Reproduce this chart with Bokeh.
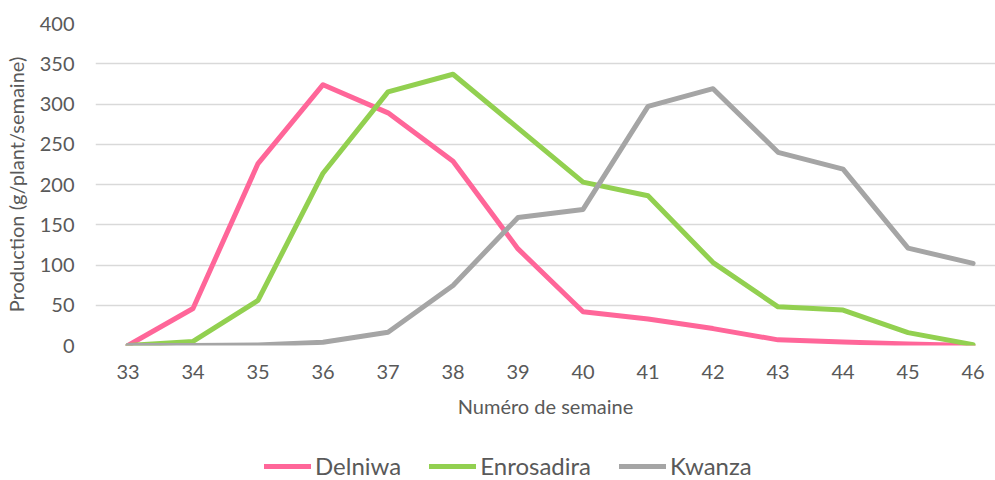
from bokeh.plotting import figure
from bokeh.layouts import column
from bokeh.models import FixedTicker, Legend, LegendItem, Range1d
from bokeh.embed import file_html
from bokeh.resources import INLINE

weeks = [33, 34, 35, 36, 37, 38, 39, 40, 41, 42, 43, 44, 45, 46]
delniwa = [0, 46, 226, 324, 289, 229, 120, 42, 33, 21, 7, 4.5, 2, 0]
enrosadira = [0, 5, 56, 214, 315, 337, 270, 203, 186, 103, 48, 44, 16, 1]
kwanza = [0, 0, 0.5, 4, 16.5, 74.5, 159, 169, 297, 319, 240, 219, 121, 102]
series_names = ["Delniwa", "Enrosadira", "Kwanza"]
colors = ["#FF6699", "#92D050", "#A5A5A5"]
y_ticks = [0, 50, 100, 150, 200, 250, 300, 350, 400]

FONT = "Lato"
TXT = "#595959"
W = 995
series = [delniwa, enrosadira, kwanza]

p = figure(width=W, height=440, output_backend="svg", toolbar_location=None,
           x_range=Range1d(32.5, 46.345), y_range=Range1d(0, 400),
           min_border_left=94, min_border_right=0, min_border_top=23,
           min_border_bottom=95)
p.outline_line_color = None

for data, c in zip(series, colors):
    p.line(weeks, data, line_color=c, line_width=5,
           line_join="round", line_cap="round")

p.xgrid.grid_line_color = None
p.ygrid.grid_line_color = "#D9D9D9"
p.ygrid.grid_line_width = 1.5
p.yaxis.ticker = FixedTicker(ticks=y_ticks)
p.xaxis.ticker = FixedTicker(ticks=weeks)

for ax in (p.xaxis[0], p.yaxis[0]):
    ax.axis_line_color = None
    ax.major_tick_line_color = None
    ax.minor_tick_line_color = None
    ax.major_tick_out = 0
    ax.major_tick_in = 0
    ax.major_label_text_font = FONT
    ax.major_label_text_font_size = "20px"
    ax.major_label_text_color = TXT
    ax.axis_label_text_font = FONT
    ax.axis_label_text_font_size = "20px"
    ax.axis_label_text_color = TXT
    ax.axis_label_text_font_style = "normal"

p.xaxis.axis_label = "Numéro de semaine"
p.yaxis.axis_label = "Production (g/plant/semaine)"
p.xaxis.major_label_standoff = 19
p.xaxis.axis_label_standoff = 12
p.yaxis.major_label_standoff = 21
p.yaxis.axis_label_standoff = 9

# legend strip below the chart (series lines lie outside its view)
lg = figure(width=W, height=40, output_backend="svg", toolbar_location=None,
            x_range=Range1d(0, 1), y_range=Range1d(0, 1),
            x_axis_location=None, y_axis_location=None,
            min_border_left=0, min_border_right=0, min_border_top=0,
            min_border_bottom=0)
lg.outline_line_color = None
lg.grid.grid_line_color = None
lrs = [lg.line(weeks, data, line_color=c, line_width=5, line_cap="round")
       for data, c in zip(series, colors)]
legend = Legend(items=[LegendItem(label=n, renderers=[r]) for n, r in zip(series_names, lrs)],
                orientation="horizontal", location=(169, 0),
                border_line_color=None, background_fill_alpha=0,
                padding=0, margin=0, spacing=28,
                glyph_width=47, glyph_height=20, label_standoff=4,
                label_text_font=FONT, label_text_font_size="24px",
                label_text_color=TXT)
lg.add_layout(legend, "center")

layout = column(p, lg, spacing=0)
open("out.html", "w").write(file_html(layout, INLINE))
